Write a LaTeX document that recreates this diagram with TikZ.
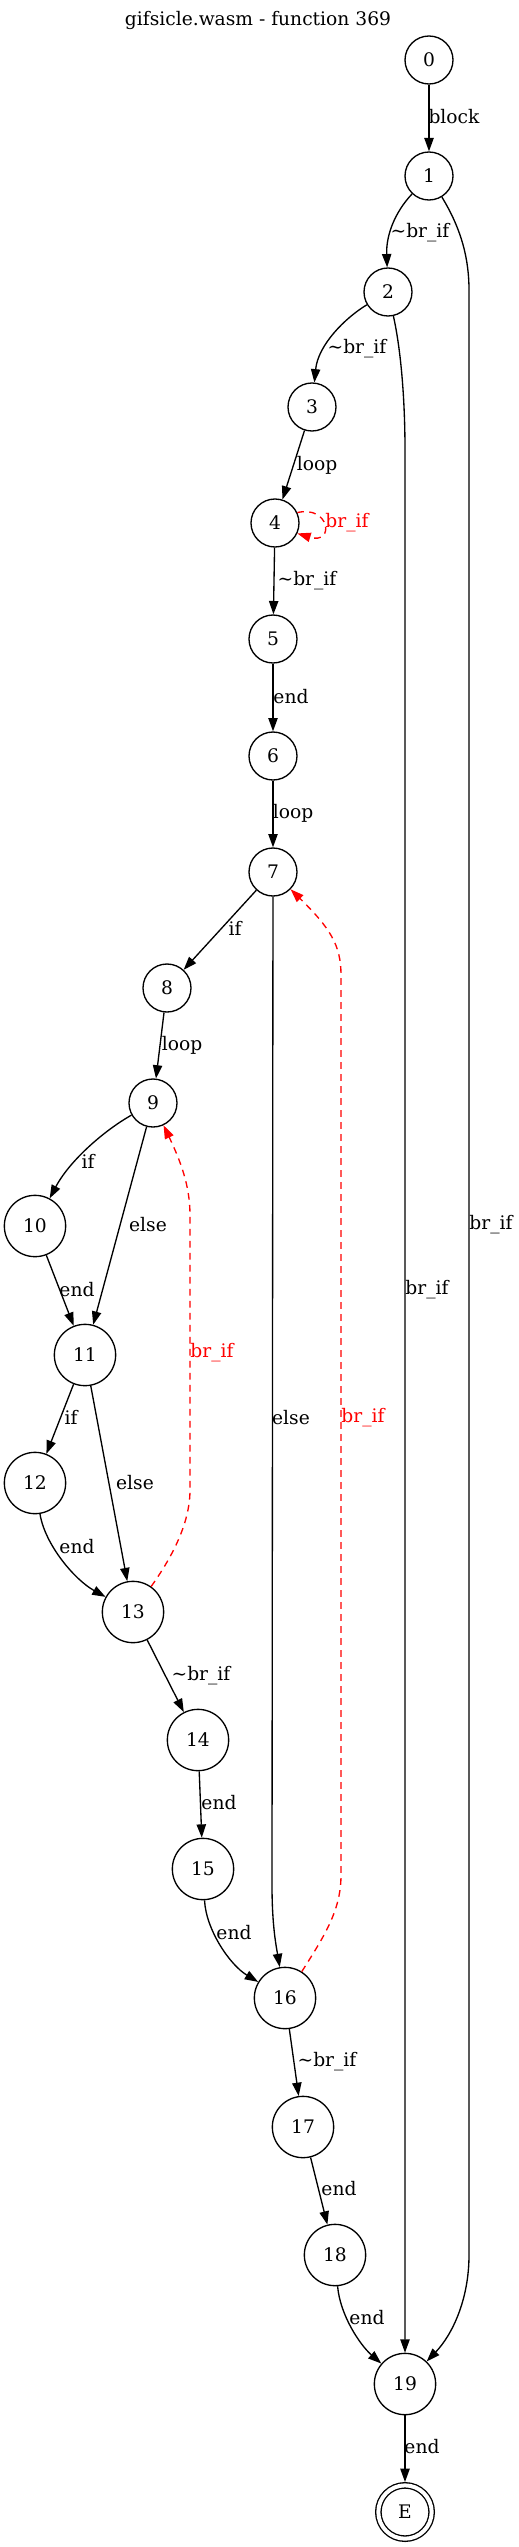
\documentclass[tikz,border=0pt]{standalone}
\usepackage{fontspec}
\setmainfont{DejaVu Serif}
\usetikzlibrary{arrows.meta}

\begin{document}
\begin{tikzpicture}[x=0.75pt, y=-0.75pt, >={Triangle[length=10pt,width=7pt]},
    every node/.style={font=\fontsize{14}{17}\selectfont},
    blk/.style={circle, draw, line width=1pt, minimum size=36pt, inner sep=0pt},
    wide/.style={blk, minimum size=46pt},
    lbl/.style={inner sep=0pt},
    flow/.style={->, line width=1pt},
    back/.style={->, line width=1pt, red, dash pattern=on 5pt off 4pt}]
      \useasboundingbox (0,0) rectangle (518,2547);

      % Define the title and the blocks
      \node (title) at (258,20) {gifsicle.wasm - function 369};
      \node[blk] (n0) at (429,60) {0};
      \node[blk] (n1) at (429,176) {1};
      \node[blk] (n2) at (388,292) {2};
      \node[blk] (n3) at (312,407) {3};
      \node[blk] (n4) at (275,523) {4};
      \node[blk] (n5) at (273,639) {5};
      \node[blk] (n6) at (273,756) {6};
      \node[blk] (n7) at (273,872) {7};
      \node[blk] (n8) at (167,988) {8};
      \node[blk] (n9) at (153,1103) {9};
      \node[wide] (n10) at (35,1226) {10};
      \node[wide] (n11) at (85,1355) {11};
      \node[wide] (n12) at (35,1483) {12};
      \node[wide] (n13) at (133,1612) {13};
      \node[wide] (n14) at (198,1740) {14};
      \node[wide] (n15) at (203,1869) {15};
      \node[wide] (n16) at (285,1998) {16};
      \node[wide] (n17) at (303,2127) {17};
      \node[wide] (n18) at (335,2255) {18};
      \node[wide] (n19) at (405,2384) {19};
      \node[blk, double, double distance=3pt, minimum size=40pt, outer sep=2.5pt] (nE) at (405,2512) {E};

      % Draw the forward edges
      \draw[flow] (n0) -- (n1);
      \draw[flow] (n1) .. controls (395,212) and (386,235) .. (n2);
      \draw[flow] (n1) .. controls (462,230) and (469,260) .. (469,290) -- (469,2255) .. controls (469,2300) and (452,2335) .. (n19);
      \draw[flow] (n2) .. controls (401,350) and (405,400) .. (405,450) -- (n19);
      \draw[flow] (n2) .. controls (345,318) and (318,345) .. (n3);
      \draw[flow] (n3) -- (n4);
      \draw[flow] (n4) -- (n5);
      \draw[flow] (n5) -- (n6);
      \draw[flow] (n6) -- (n7);
      \draw[flow] (n7) -- (n8);
      \draw[flow] (n7) -- (272,1885) .. controls (272,1925) and (276,1945) .. (n16);
      \draw[flow] (n8) -- (n9);
      \draw[flow] (n9) .. controls (105,1130) and (70,1160) .. (n10);
      \draw[flow] (n9) -- (n11);
      \draw[flow] (n10) -- (n11);
      \draw[flow] (n11) -- (n12);
      \draw[flow] (n11) -- (n13);
      \draw[flow] (n12) .. controls (45,1545) and (75,1580) .. (n13);
      \draw[flow] (n13) -- (n14);
      \draw[flow] (n14) -- (n15);
      \draw[flow] (n15) .. controls (206,1930) and (230,1965) .. (n16);
      \draw[flow] (n16) -- (n17);
      \draw[flow] (n17) -- (n18);
      \draw[flow] (n18) .. controls (340,2315) and (360,2345) .. (n19);
      \draw[flow] (n19) -- (nE);

      % Draw the back edges
      \draw[back] (n4.25) .. controls (330,505) and (335,545) .. (n4.-25);
      \draw[back] (n13) .. controls (170,1560) and (190,1525) .. (190,1490) -- (190,1215) .. controls (190,1185) and (180,1160) .. (n9);
      \draw[back] (n16) .. controls (325,1935) and (341,1910) .. (341,1875) -- (341,975) .. controls (341,945) and (330,928) .. (n7);

      % Edge labels
      \node[lbl] (l01) at (454,117) {block};
      \node[lbl] (l12) at (420,233) {\textasciitilde br\_if};
      \node[lbl] (l23) at (357,349) {\textasciitilde br\_if};
      \node[lbl] (l34) at (317,465) {loop};
      \node[lbl, red] (l44) at (347,523) {br\_if};
      \node[lbl] (l45) at (307,581) {\textasciitilde br\_if};
      \node[lbl] (l56) at (291,697) {end};
      \node[lbl] (l67) at (293,813) {loop};
      \node[lbl] (l78) at (235,928) {if};
      \node[lbl] (l89) at (182,1045) {loop};
      \node[lbl] (l910) at (88,1161) {if};
      \node[lbl] (l911) at (148,1225) {else};
      \node[lbl] (l119) at (491,1225) {br\_if};
      \node[lbl] (l219) at (427,1290) {br\_if};
      \node[lbl] (l1011) at (77,1290) {end};
      \node[lbl, red] (l139) at (212,1353) {br\_if};
      \node[lbl] (l716) at (291,1418) {else};
      \node[lbl, red] (l167) at (363,1418) {br\_if};
      \node[lbl] (l1112) at (71,1417) {if};
      \node[lbl] (l1113) at (135,1483) {else};
      \node[lbl] (l1213) at (77,1547) {end};
      \node[lbl] (l1314) at (201,1676) {\textasciitilde br\_if};
      \node[lbl] (l1415) at (219,1803) {end};
      \node[lbl] (l1516) at (234,1933) {end};
      \node[lbl] (l1617) at (327,2062) {\textasciitilde br\_if};
      \node[lbl] (l1718) at (339,2189) {end};
      \node[lbl] (l1819) at (367,2318) {end};
      \node[lbl] (l19E) at (422,2447) {end};
\end{tikzpicture}
\end{document}
